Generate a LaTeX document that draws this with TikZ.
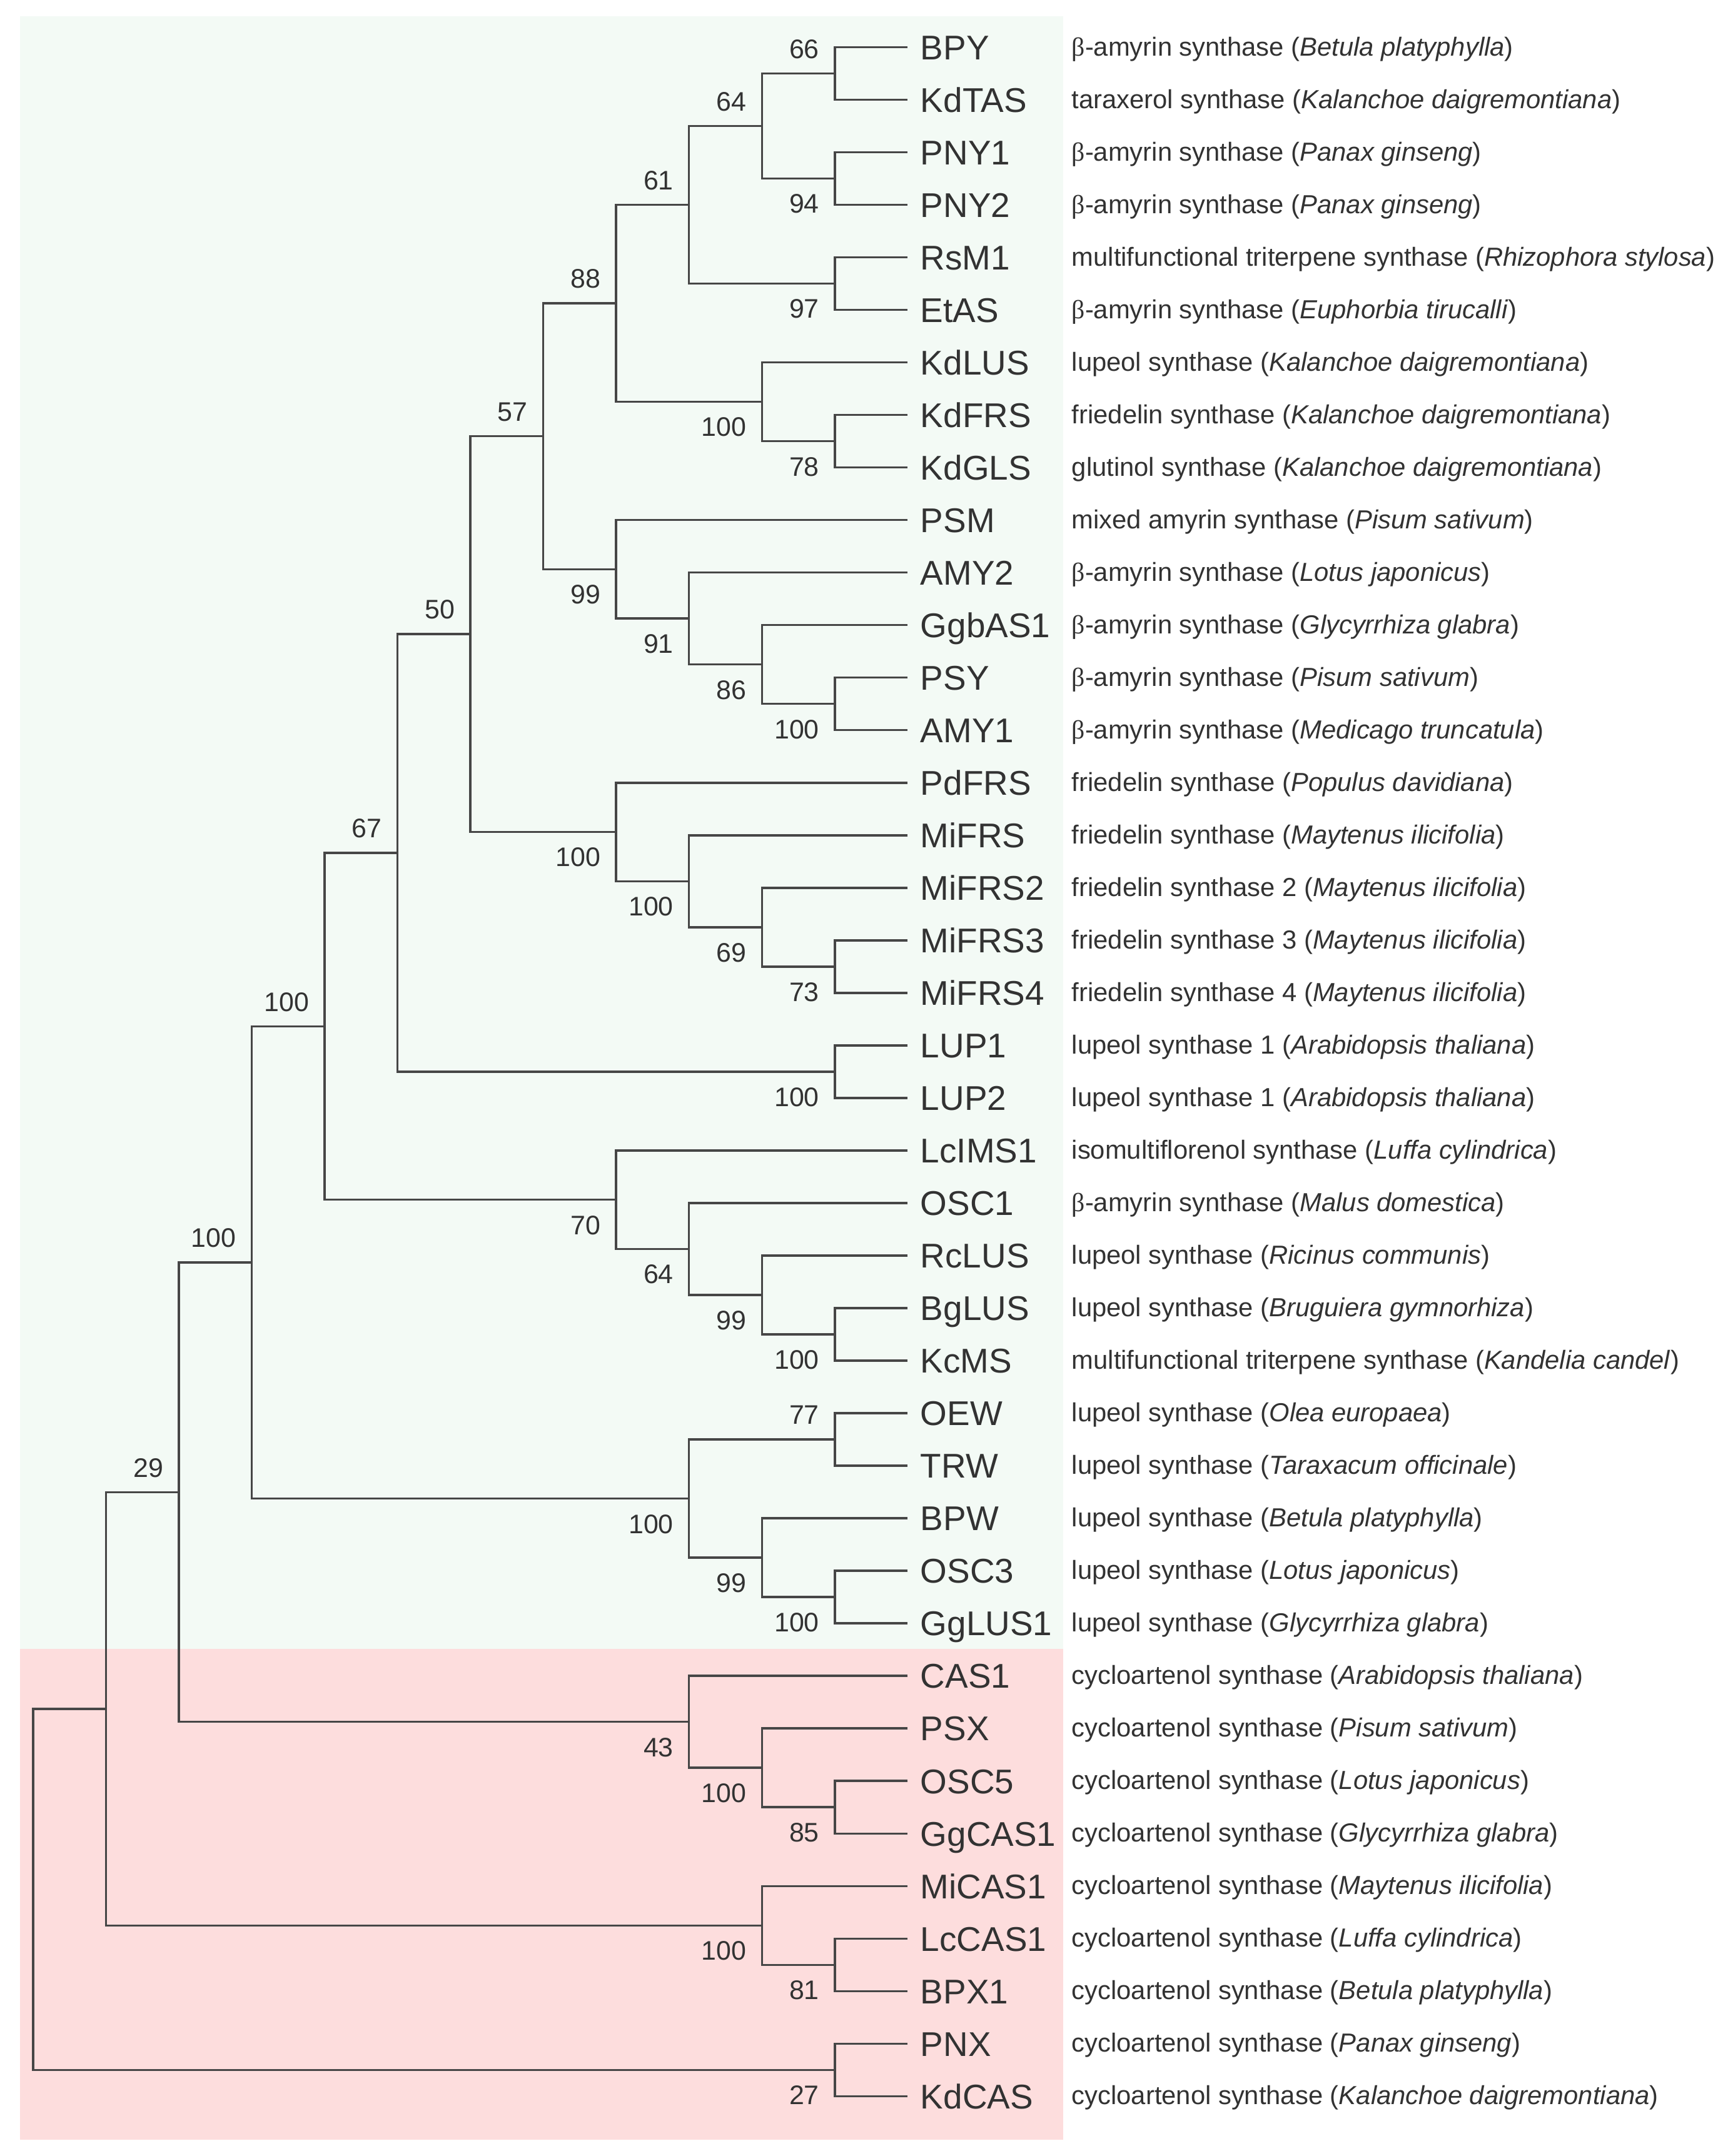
\documentclass[tikz,border=0pt]{standalone}
\usepackage{fontspec}
\setmainfont{Liberation Sans}
\newfontfamily\leaffont{Liberation Sans}
\newfontfamily\betafont{Liberation Serif}
\usetikzlibrary{calc}
\definecolor{greenbg}{RGB}{243,250,245}
\definecolor{pinkbg}{RGB}{253,221,221}
\definecolor{linecol}{RGB}{70,70,70}
\definecolor{txtcol}{RGB}{50,50,50}
\newcommand\bta{{\betafont β}}
\tikzset{
  br/.style={draw=linecol, line width=0.9pt},
  leafname/.style={anchor=base west, inner sep=0pt, text=txtcol, font=\leaffont\fontsize{14.2}{16}\selectfont},
  desc/.style={anchor=base west, inner sep=0pt, text=txtcol, font=\fontsize{10.81}{13}\selectfont},
  bs/.style={anchor=base east, inner sep=0pt, text=txtcol, font=\fontsize{11.1}{13}\selectfont},
}
\newcommand\leaf[4]{%
  \coordinate (t#1) at (660,34.3+38.21*#1);
  \node[leafname] (L#1) at (669,34.3+38.21*#1+9) {#2};
  \node[desc] (D#1) at (779,34.3+38.21*#1+6.2) {#3 (\textit{#4})};
}
\newcommand\inode[3]{\coordinate (#1) at (24+53*#2,34.3+38.21*#3);}
\newcommand\clade[3]{\draw[br] (#2) -| (#1) |- (#3);}
\newcommand\bsup[2]{\node[bs] (b#1) at ($(#1)+(-11,-11)$) {#2};}
\newcommand\bsdn[2]{\node[bs] (b#1) at ($(#1)+(-11,25.2)$) {#2};}
\begin{document}
\begin{tikzpicture}[x=0.02cm,y=-0.02cm]
\fill[white] (0,0) rectangle (1260,1568);
\useasboundingbox (0,0) rectangle (1260,1568);
\fill[greenbg] (14.5,11.6) rectangle (773,1199);
\fill[pinkbg] (14.5,1199) rectangle (773,1556);

\leaf{0}{BPY}{\bta-amyrin synthase}{Betula platyphylla}
\leaf{1}{KdTAS}{taraxerol synthase}{Kalanchoe daigremontiana}
\leaf{2}{PNY1}{\bta-amyrin synthase}{Panax ginseng}
\leaf{3}{PNY2}{\bta-amyrin synthase}{Panax ginseng}
\leaf{4}{RsM1}{multifunctional triterpene synthase}{Rhizophora stylosa}
\leaf{5}{EtAS}{\bta-amyrin synthase}{Euphorbia tirucalli}
\leaf{6}{KdLUS}{lupeol synthase}{Kalanchoe daigremontiana}
\leaf{7}{KdFRS}{friedelin synthase}{Kalanchoe daigremontiana}
\leaf{8}{KdGLS}{glutinol synthase}{Kalanchoe daigremontiana}
\leaf{9}{PSM}{mixed amyrin synthase}{Pisum sativum}
\leaf{10}{AMY2}{\bta-amyrin synthase}{Lotus japonicus}
\leaf{11}{GgbAS1}{\bta-amyrin synthase}{Glycyrrhiza glabra}
\leaf{12}{PSY}{\bta-amyrin synthase}{Pisum sativum}
\leaf{13}{AMY1}{\bta-amyrin synthase}{Medicago truncatula}
\leaf{14}{PdFRS}{friedelin synthase}{Populus davidiana}
\leaf{15}{MiFRS}{friedelin synthase}{Maytenus ilicifolia}
\leaf{16}{MiFRS2}{friedelin synthase 2}{Maytenus ilicifolia}
\leaf{17}{MiFRS3}{friedelin synthase 3}{Maytenus ilicifolia}
\leaf{18}{MiFRS4}{friedelin synthase 4}{Maytenus ilicifolia}
\leaf{19}{LUP1}{lupeol synthase 1}{Arabidopsis thaliana}
\leaf{20}{LUP2}{lupeol synthase 1}{Arabidopsis thaliana}
\leaf{21}{LcIMS1}{isomultiflorenol synthase}{Luffa cylindrica}
\leaf{22}{OSC1}{\bta-amyrin synthase}{Malus domestica}
\leaf{23}{RcLUS}{lupeol synthase}{Ricinus communis}
\leaf{24}{BgLUS}{lupeol synthase}{Bruguiera gymnorhiza}
\leaf{25}{KcMS}{multifunctional triterpene synthase}{Kandelia candel}
\leaf{26}{OEW}{lupeol synthase}{Olea europaea}
\leaf{27}{TRW}{lupeol synthase}{Taraxacum officinale}
\leaf{28}{BPW}{lupeol synthase}{Betula platyphylla}
\leaf{29}{OSC3}{lupeol synthase}{Lotus japonicus}
\leaf{30}{GgLUS1}{lupeol synthase}{Glycyrrhiza glabra}
\leaf{31}{CAS1}{cycloartenol synthase}{Arabidopsis thaliana}
\leaf{32}{PSX}{cycloartenol synthase}{Pisum sativum}
\leaf{33}{OSC5}{cycloartenol synthase}{Lotus japonicus}
\leaf{34}{GgCAS1}{cycloartenol synthase}{Glycyrrhiza glabra}
\leaf{35}{MiCAS1}{cycloartenol synthase}{Maytenus ilicifolia}
\leaf{36}{LcCAS1}{cycloartenol synthase}{Luffa cylindrica}
\leaf{37}{BPX1}{cycloartenol synthase}{Betula platyphylla}
\leaf{38}{PNX}{cycloartenol synthase}{Panax ginseng}
\leaf{39}{KdCAS}{cycloartenol synthase}{Kalanchoe daigremontiana}

\inode{n66}{11}{0.5} \clade{n66}{t0}{t1} \bsup{n66}{66}
\inode{n94}{11}{2.5} \clade{n94}{t2}{t3} \bsdn{n94}{94}
\inode{n64}{10}{1.5} \clade{n64}{n66}{n94} \bsup{n64}{64}
\inode{n97}{11}{4.5} \clade{n97}{t4}{t5} \bsdn{n97}{97}
\inode{n61}{9}{3} \clade{n61}{n64}{n97} \bsup{n61}{61}
\inode{n78}{11}{7.5} \clade{n78}{t7}{t8} \bsdn{n78}{78}
\inode{nA}{10}{6.75} \clade{nA}{t6}{n78} \bsdn{nA}{100}
\inode{n88}{8}{4.875} \clade{n88}{n61}{nA} \bsup{n88}{88}
\inode{nB}{11}{12.5} \clade{nB}{t12}{t13} \bsdn{nB}{100}
\inode{n86}{10}{11.75} \clade{n86}{t11}{nB} \bsdn{n86}{86}
\inode{n91}{9}{10.875} \clade{n91}{t10}{n86} \bsdn{n91}{91}
\inode{n99}{8}{9.9375} \clade{n99}{t9}{n91} \bsdn{n99}{99}
\inode{n57}{7}{7.40625} \clade{n57}{n88}{n99} \bsup{n57}{57}
\inode{n73}{11}{17.5} \clade{n73}{t17}{t18} \bsdn{n73}{73}
\inode{n69}{10}{16.75} \clade{n69}{t16}{n73} \bsdn{n69}{69}
\inode{nC}{9}{15.875} \clade{nC}{t15}{n69} \bsdn{nC}{100}
\inode{nD}{8}{14.9375} \clade{nD}{t14}{nC} \bsdn{nD}{100}
\inode{n50}{6}{11.171875} \clade{n50}{n57}{nD} \bsup{n50}{50}
\inode{nE}{11}{19.5} \clade{nE}{t19}{t20} \bsdn{nE}{100}
\inode{n67}{5}{15.3359375} \clade{n67}{n50}{nE} \bsup{n67}{67}
\inode{nF}{11}{24.5} \clade{nF}{t24}{t25} \bsdn{nF}{100}
\inode{n99b}{10}{23.75} \clade{n99b}{t23}{nF} \bsdn{n99b}{99}
\inode{n64b}{9}{22.875} \clade{n64b}{t22}{n99b} \bsdn{n64b}{64}
\inode{n70}{8}{21.9375} \clade{n70}{t21}{n64b} \bsdn{n70}{70}
\inode{nG}{4}{18.63671875} \clade{nG}{n67}{n70} \bsup{nG}{100}
\inode{n77}{11}{26.5} \clade{n77}{t26}{t27} \bsup{n77}{77}
\inode{nH}{11}{29.5} \clade{nH}{t29}{t30} \bsdn{nH}{100}
\inode{n99c}{10}{28.75} \clade{n99c}{t28}{nH} \bsdn{n99c}{99}
\inode{nI}{9}{27.625} \clade{nI}{n77}{n99c} \bsdn{nI}{100}
\inode{nJ}{3}{23.130859375} \clade{nJ}{nG}{nI} \bsup{nJ}{100}
\inode{n85}{11}{33.5} \clade{n85}{t33}{t34} \bsdn{n85}{85}
\inode{nK}{10}{32.75} \clade{nK}{t32}{n85} \bsdn{nK}{100}
\inode{n43}{9}{31.875} \clade{n43}{t31}{nK} \bsdn{n43}{43}
\inode{n29}{2}{27.5029296875} \clade{n29}{nJ}{n43} \bsup{n29}{29}
\inode{n81}{11}{36.5} \clade{n81}{t36}{t37} \bsdn{n81}{81}
\inode{nM}{10}{35.75} \clade{nM}{t35}{n81} \bsdn{nM}{100}
\inode{nU}{1}{31.62646484375} \clade{nU}{n29}{nM}
\inode{n27}{11}{38.5} \clade{n27}{t38}{t39} \bsdn{n27}{27}
\inode{root}{0}{35.063232421875} \clade{root}{nU}{n27}
\end{tikzpicture}
\end{document}
